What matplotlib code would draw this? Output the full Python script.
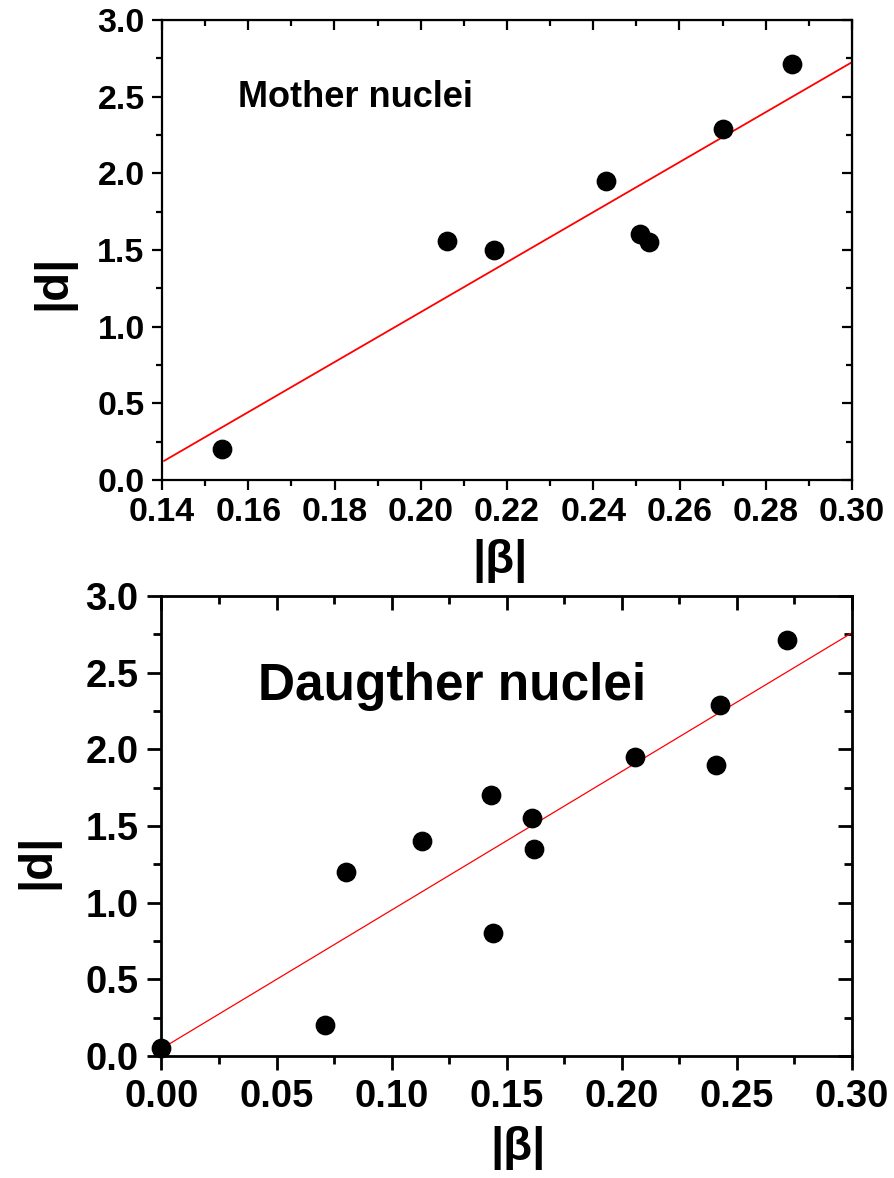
import matplotlib
matplotlib.use("Agg")
import matplotlib.pyplot as plt
from matplotlib.ticker import MultipleLocator, FormatStrFormatter

plt.rcParams['font.family'] = ['Liberation Sans', 'DejaVu Sans']
plt.rcParams['font.weight'] = 'bold'

# Mother nuclei data
mother_beta = [0.154, 0.206, 0.217, 0.243, 0.2508, 0.2529, 0.270, 0.286]
mother_d = [0.20, 1.56, 1.50, 1.95, 1.605, 1.553, 2.29, 2.714]
mother_fit_x = [0.1405, 0.30]
mother_fit_y = [0.125, 2.725]

# Daughter nuclei data
daughter_beta = [0.000, 0.071, 0.080, 0.113, 0.143, 0.161, 0.162, 0.144, 0.2057, 0.241, 0.2426, 0.2717]
daughter_d = [0.05, 0.20, 1.20, 1.40, 1.70, 1.555, 1.35, 0.80, 1.95, 1.90, 2.29, 2.713]
daughter_fit_x = [0.0, 0.30]
daughter_fit_y = [0.048, 2.76]

W, H = 895, 1178
fig = plt.figure(figsize=(W/100, H/100), dpi=100)

def style(ax, xmaj, xmin, lw, lab, majl, minl, pad):
    ax.xaxis.set_major_locator(MultipleLocator(xmaj))
    ax.xaxis.set_minor_locator(MultipleLocator(xmin))
    ax.yaxis.set_major_locator(MultipleLocator(0.5))
    ax.yaxis.set_minor_locator(MultipleLocator(0.25))
    ax.xaxis.set_major_formatter(FormatStrFormatter('%.2f'))
    ax.yaxis.set_major_formatter(FormatStrFormatter('%.1f'))
    for s in ax.spines.values():
        s.set_linewidth(lw)
    ax.tick_params(which='both', direction='out', width=lw, labelsize=lab, pad=pad)
    ax.tick_params(which='major', length=majl)
    ax.tick_params(which='minor', length=minl)
    for l in ax.get_xticklabels() + ax.get_yticklabels():
        l.set_fontweight('bold')
    # top/right inward ticks
    ax2 = ax.secondary_xaxis('top')
    ax2.xaxis.set_major_locator(MultipleLocator(xmaj))
    ax2.xaxis.set_minor_locator(MultipleLocator(xmin))
    ax2.tick_params(which='both', direction='in', width=lw, labeltop=False)
    ax2.tick_params(which='major', length=majl)
    ax2.tick_params(which='minor', length=minl)
    ax3 = ax.secondary_yaxis('right')
    ax3.yaxis.set_major_locator(MultipleLocator(0.5))
    ax3.yaxis.set_minor_locator(MultipleLocator(0.25))
    ax3.tick_params(which='both', direction='in', width=lw, labelright=False)
    ax3.tick_params(which='major', length=majl)
    ax3.tick_params(which='minor', length=minl)

ax1 = fig.add_axes([162/W, 1-480/H, 690/W, 460/H])
ax1.scatter(mother_beta, mother_d, s=175, color='black', zorder=3, clip_on=False)
ax1.plot(mother_fit_x, mother_fit_y, color='red', lw=1.3)
ax1.set_xlim(0.14, 0.30)
ax1.set_ylim(0, 3.0)
style(ax1, 0.02, 0.01, 1.6, 24.5, 7, 4, 5.5)
ax1.text(0.49, -0.176, '|β|', transform=ax1.transAxes, fontsize=34, fontweight='bold',
         ha='center', va='center')
ax1.text(-0.158, 0.43, '|d|', transform=ax1.transAxes, fontsize=34, fontweight='bold',
         ha='center', va='center', rotation=90)
ax1.text(0.1576, 2.43, 'Mother nuclei', fontsize=26, fontweight='bold', ha='left', va='baseline')

ax2 = fig.add_axes([161.5/W, 1-1056/H, 690.5/W, 460/H])
ax2.scatter(daughter_beta, daughter_d, s=175, color='black', zorder=3, clip_on=False)
ax2.plot(daughter_fit_x, daughter_fit_y, color='red', lw=0.9)
ax2.set_xlim(0, 0.30)
ax2.set_ylim(0, 3.0)
style(ax2, 0.05, 0.025, 2.0, 27.5, 10, 5.5, 6.5)
ax2.text(0.516, -0.2, '|β|', transform=ax2.transAxes, fontsize=34, fontweight='bold',
         ha='center', va='center')
ax2.text(-0.18, 0.424, '|d|', transform=ax2.transAxes, fontsize=34, fontweight='bold',
         ha='center', va='center', rotation=90)
ax2.text(0.042, 2.32, 'Daugther nuclei', fontsize=37, fontweight='bold', ha='left', va='baseline')

fig.savefig('out.png', dpi=100)
